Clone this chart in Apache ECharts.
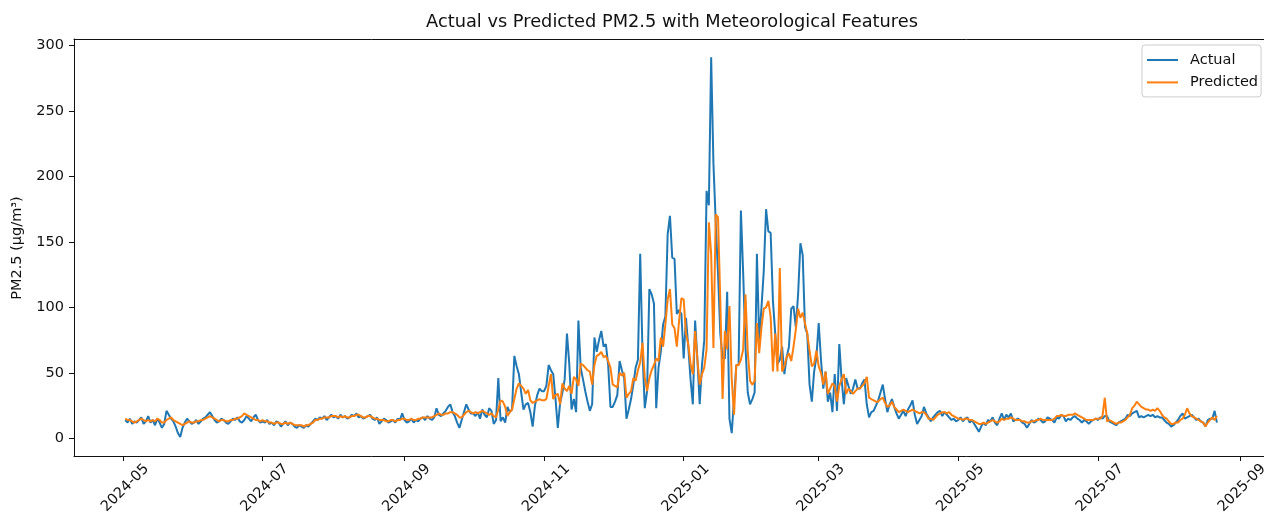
<!DOCTYPE html>
<html>
<head>
<meta charset="utf-8">
<title>Actual vs Predicted PM2.5</title>
<script src="https://cdn.jsdelivr.net/npm/echarts@6/dist/echarts.min.js"></script>
<style>
  html, body { margin: 0; padding: 0; background: #fff; }
  #chart { width: 1264px; height: 515px; }
</style>
</head>
<body>
<div id="chart"></div>
<script>
// Daily PM2.5 (µg/m³), one value per day.
// 2024 block starts on 2024-05-02, 2025 block starts on 2025-01-01.
const start2024 = [2024, 4, 2];
const start2025 = [2025, 0, 1];

const actual2024 = [
  // May
  14,12,15,11,13,12,14,16,11,13,17,12,14,10,15,12,8,11,21,18,15,13,9,4,1,8,12,15,13,11,
  // Jun
  12,14,11,13,15,16,18,20,17,14,12,13,15,14,12,11,13,15,14,16,13,12,14,17,15,13,16,18,14,12,
  // Jul
  13,12,14,11,12,10,13,12,9,11,13,10,12,11,9,8,10,9,8,10,9,11,13,15,14,16,15,17,14,16,18,
  // Aug
  16,17,15,18,16,17,15,16,18,17,19,16,17,15,16,17,18,15,14,16,11,13,15,14,12,13,14,12,15,14,19,
  // Sep
  14,12,13,15,12,14,13,15,16,14,17,15,14,16,23,18,17,19,21,24,26,20,17,12,8,14,20,26,22,19,
  // Oct
  19,17,20,15,22,18,16,23,21,11,14,46,13,16,12,24,20,22,63,55,49,35,22,26,27,20,9,25,33,38,36,
  // Nov
  36,40,56,52,49,30,8,27,35,45,80,57,22,30,20,90,54,45,36,28,21,26,77,66,75,82,70,72,56,24,
  // Dec
  24,28,33,59,52,46,15,22,30,41,54,60,141,66,23,36,114,110,103,23,54,66,87,93,156,170,138,137,95,98,95
];

const predicted2024 = [
  // May
  15,14,14,13,12,13,14,15,14,13,14,13,14,13,15,14,12,12,14,15,16,14,13,12,11,10,11,12,13,12,
  // Jun
  12,13,13,14,14,15,16,17,16,15,14,13,14,14,13,13,14,14,15,15,16,17,19,18,17,16,15,14,14,13,
  // Jul
  14,13,13,12,12,11,12,12,11,11,12,11,12,11,10,10,10,10,9,10,10,11,12,14,14,15,15,16,16,16,17,
  // Aug
  17,17,16,17,16,17,16,16,17,17,18,18,17,16,16,17,17,16,15,15,14,14,14,13,13,14,14,13,14,14,15,
  // Sep
  15,14,14,15,14,14,15,15,16,16,16,16,16,17,18,19,18,18,19,19,20,20,19,18,16,16,18,20,21,20,
  // Oct
  19,20,19,20,21,20,19,18,19,17,16,22,29,28,24,17,20,22,30,38,42,40,38,34,37,29,27,28,29,30,29,
  // Nov
  29,30,40,49,30,33,34,26,42,38,36,40,34,47,45,40,57,56,54,52,51,41,56,63,64,66,62,63,59,54,
  // Dec
  41,40,39,50,48,50,31,34,36,46,44,52,58,73,46,36,46,52,56,61,59,77,70,87,106,114,87,84,70,90,107
];

const actual2025 = [
  // Jan
  61,92,70,45,26,90,60,26,56,75,189,178,291,210,165,126,80,61,61,112,15,4,30,56,56,174,126,70,35,26,30,
  // Feb
  35,141,75,100,128,175,158,157,105,80,57,60,70,49,62,70,99,101,85,110,149,140,85,80,41,28,51,62,
  // Mar
  88,60,38,51,28,35,20,49,21,72,45,26,46,40,34,38,45,38,38,42,45,26,16,20,21,25,29,35,41,30,20,
  // Apr
  26,30,24,19,15,18,21,17,22,25,29,18,11,14,17,24,19,16,13,16,18,20,21,17,20,18,16,14,15,13,
  // May
  14,16,13,15,16,12,14,11,8,5,9,12,10,14,13,16,12,10,15,19,14,18,16,19,13,14,15,14,12,11,8,
  // Jun
  11,14,12,13,15,14,12,13,16,15,14,12,16,15,18,17,13,15,14,16,17,15,14,12,14,13,11,13,14,15,
  // Jul
  14,16,15,17,17,13,12,11,10,12,13,14,15,18,17,19,20,21,16,17,16,17,18,17,18,16,17,16,16,14,12,
  // Aug (to the 22nd)
  11,9,10,12,14,17,19,15,16,17,18,16,14,15,13,12,9,14,15,15,21,12
];

const predicted2025 = [
  // Jan
  106,80,72,57,49,82,60,41,49,54,68,165,141,69,171,169,105,30,82,68,101,45,18,56,56,60,68,110,66,44,41,
  // Feb
  44,88,65,85,99,100,105,93,51,80,51,130,51,55,62,65,59,70,83,99,92,96,88,80,67,55,57,67,
  // Mar
  55,50,41,51,34,38,42,40,28,40,45,49,34,38,36,34,36,38,38,40,42,47,31,30,29,28,28,30,31,27,24,
  // Apr
  25,28,24,22,20,21,22,21,20,21,22,21,20,19,20,20,18,15,15,14,16,18,19,20,20,19,20,18,17,16,
  // May
  15,15,14,15,15,14,14,13,12,11,11,12,11,12,13,14,13,12,13,15,14,15,15,16,15,14,14,14,13,13,12,
  // Jun
  12,13,13,14,14,15,14,14,14,14,14,15,17,17,18,17,17,18,18,18,19,18,17,16,15,14,14,14,14,15,
  // Jul
  15,15,17,31,13,14,13,12,11,12,12,13,14,16,18,23,25,28,26,24,23,22,22,21,22,21,23,21,18,16,15,
  // Aug (to the 22nd)
  13,11,11,12,12,14,15,18,23,19,17,16,15,14,13,12,9,12,14,16,14,17
];

// Date ticks every two months, and y ticks
const tickMonths = ['2024-05', '2024-07', '2024-09', '2024-11', '2025-01', '2025-03', '2025-05', '2025-07', '2025-09'];
const yTicks = [0, 50, 100, 150, 200, 250, 300];

const seriesNames = ['Actual', 'Predicted'];
const seriesColors = ['#1f77b4', '#ff7f0e'];

function toPairs(start, values) {
  return values.map(function (v, i) {
    return [new Date(start[0], start[1], start[2] + i).getTime(), v];
  });
}
function monthTime(s) {
  const p = s.split('-');
  return new Date(+p[0], +p[1] - 1, 1).getTime();
}

const actualData = toPairs(start2024, actual2024).concat(toPairs(start2025, actual2025));
const predictedData = toPairs(start2024, predicted2024).concat(toPairs(start2025, predicted2025));
const tickTimes = tickMonths.map(monthTime);

// visible date window (the frame runs off the right edge of the canvas)
const xMin = new Date(2024, 3, 9, 14).getTime();
const xMax = new Date(2025, 8, 11, 14).getTime();

const FONT = '"DejaVu Sans", Verdana, sans-serif';
const INK = '#111';

const chart = echarts.init(document.getElementById('chart'), null, { renderer: 'canvas' });

chart.setOption({
  animation: false,
  backgroundColor: '#fff',
  textStyle: { fontFamily: FONT },
  grid: {
    left: 74, right: 0, top: 39, bottom: 59,
    show: false, containLabel: false, outerBoundsMode: 'none'
  },
  graphic: [
    {
      type: 'text', x: 672, y: 22, z: 10,
      style: {
        text: 'Actual vs Predicted PM2.5 with Meteorological Features',
        font: '17.8px ' + FONT, fill: INK,
        align: 'center', verticalAlign: 'middle',
        textAlign: 'center', textVerticalAlign: 'middle'
      }
    },
    {
      type: 'text', x: 17, y: 248, rotation: Math.PI / 2, z: 10,
      style: {
        text: 'PM2.5 (µg/m³)',
        font: '14.5px ' + FONT, fill: INK,
        align: 'center', verticalAlign: 'middle',
        textAlign: 'center', textVerticalAlign: 'middle'
      }
    }
  ],
  legend: {
    data: seriesNames,
    orient: 'vertical',
    left: 1142, top: 45,
    icon: 'rect',
    itemWidth: 31, itemHeight: 2,
    itemGap: 5.4,
    padding: [6.5, 3, 6, 5],
    backgroundColor: '#fff',
    borderColor: '#cccccc', borderWidth: 1, borderRadius: 3,
    textStyle: { fontSize: 14.5, color: INK, fontFamily: FONT, lineHeight: 17, padding: [0, 0, 0, 7] }
  },
  xAxis: [
    {
      // timestamps on a linear axis so the bimonthly ticks can be placed exactly
      type: 'value',
      min: xMin, max: xMax,
      axisLine: { show: true, onZero: false, lineStyle: { color: INK, width: 1 } },
      splitLine: { show: false },
      axisTick: { show: true, length: 5, lineStyle: { color: INK }, customValues: tickTimes },
      axisLabel: {
        customValues: tickTimes,
        rotate: 45,
        align: 'center', verticalAlign: 'middle',
        margin: 34,
        padding: [6, 0, 0, 6],
        fontSize: 14.5, color: INK, fontFamily: FONT,
        formatter: function (val) {
          const d = new Date(val);
          return d.getFullYear() + '-' + String(d.getMonth() + 1).padStart(2, '0');
        }
      }
    },
    {
      // top frame line
      type: 'value', position: 'top',
      min: xMin, max: xMax,
      axisLine: { show: true, onZero: false, lineStyle: { color: INK, width: 1 } },
      axisTick: { show: false }, axisLabel: { show: false }, splitLine: { show: false }
    }
  ],
  yAxis: {
    type: 'value',
    min: -13.5, max: 305,
    axisLine: { show: true, onZero: false, lineStyle: { color: INK, width: 1 } },
    splitLine: { show: false },
    axisTick: { show: true, length: 5, lineStyle: { color: INK }, customValues: yTicks },
    axisLabel: { customValues: yTicks, margin: 10, fontSize: 14.5, color: INK, fontFamily: FONT }
  },
  series: [
    {
      name: seriesNames[0], type: 'line', data: actualData, xAxisIndex: 0,
      showSymbol: false, symbol: 'none',
      color: seriesColors[0],
      lineStyle: { width: 2, color: seriesColors[0] },
      z: 2
    },
    {
      name: seriesNames[1], type: 'line', data: predictedData, xAxisIndex: 0,
      showSymbol: false, symbol: 'none',
      color: seriesColors[1],
      lineStyle: { width: 2, color: seriesColors[1] },
      z: 3
    }
  ]
});
</script>
</body>
</html>
